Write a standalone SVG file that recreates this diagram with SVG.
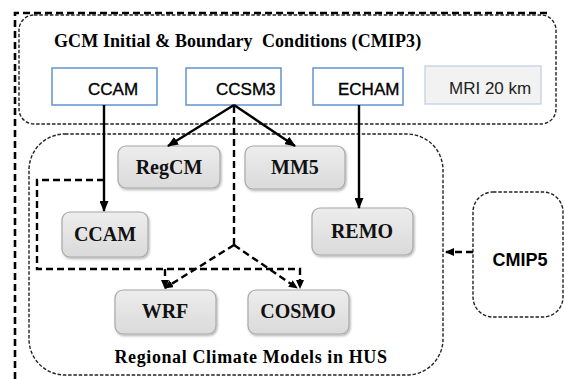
<svg xmlns="http://www.w3.org/2000/svg" width="565" height="379" viewBox="0 0 565 379">
  <style>
    .frame { fill: none; stroke: #000; stroke-width: 2.6; stroke-dasharray: 7 4; }
    .group { fill: none; stroke: #222; stroke-width: 1.4; stroke-dasharray: 3.5 1.8; }
    .gcm { fill: #fff; stroke: #6b9bd2; stroke-width: 1.6; }
    .gcm-lite { fill: #f2f2f2; stroke: #c5d3e8; stroke-width: 1.4; }
    .gcm-text { font-family: "Liberation Sans", Arial, sans-serif; font-size: 17px; fill: #000; stroke: #000; stroke-width: 0.35; }
    .rcm { fill: url(#rcmFill); stroke: #a8a8a8; stroke-width: 1.2; filter: url(#shadow); }
    .rcm-text { font-family: "Liberation Serif", "Times New Roman", serif; font-weight: bold; font-size: 20px; fill: #111; text-anchor: middle; }
    .title { font-family: "Liberation Serif", "Times New Roman", serif; font-weight: bold; font-size: 18px; fill: #000; white-space: pre; }
    .solid { fill: none; stroke: #000; stroke-width: 2.4; }
    .dash { fill: none; stroke: #000; stroke-width: 2.4; stroke-dasharray: 7 4; }
  </style>
  <defs>
    <linearGradient id="rcmFill" x1="0" y1="0" x2="0" y2="1">
      <stop offset="0" stop-color="#ededed"/>
      <stop offset="1" stop-color="#dadada"/>
    </linearGradient>
    <filter id="shadow" x="-10%" y="-10%" width="130%" height="140%">
      <feDropShadow dx="1" dy="1.5" stdDeviation="1" flood-color="#000" flood-opacity="0.3"/>
    </filter>
    <marker id="head" markerUnits="userSpaceOnUse" markerWidth="11" markerHeight="9" refX="10" refY="4.5" orient="auto">
      <path d="M0,0 L11,4.5 L0,9 z" fill="#000"/>
    </marker>
    <marker id="headSmall" markerUnits="userSpaceOnUse" markerWidth="9" markerHeight="8" refX="8" refY="4" orient="auto">
      <path d="M0,0 L9,4 L0,8 z" fill="#000"/>
    </marker>
  </defs>

  <!-- outer frame -->
  <path class="frame" d="M15,379 V13 H550"/>

  <!-- GCM panel -->
  <g id="gcm-panel">
    <rect class="group" x="19" y="15" width="537" height="109" rx="15"/>
    <text class="title" x="54" y="47" xml:space="preserve" letter-spacing="0.1">GCM Initial &amp; Boundary  Conditions (CMIP3)</text>
  </g>
  <g id="gcm-ccam">
    <rect class="gcm" x="52" y="68" width="105" height="37"/>
    <text class="gcm-text" x="88" y="95">CCAM</text>
  </g>
  <g id="gcm-ccsm3">
    <rect class="gcm" x="186" y="68" width="95" height="37"/>
    <text class="gcm-text" x="216" y="95">CCSM3</text>
  </g>
  <g id="gcm-echam">
    <rect class="gcm" x="313" y="68" width="90" height="37"/>
    <text class="gcm-text" x="338" y="95">ECHAM</text>
  </g>
  <g id="gcm-mri">
    <rect class="gcm-lite" x="425" y="66" width="116" height="38"/>
    <text x="449" y="94" font-family="'Liberation Sans', Arial, sans-serif" font-size="17" fill="#222">MRI 20 km</text>
  </g>

  <!-- RCM panel -->
  <g id="rcm-panel">
    <rect class="group" x="29" y="134" width="414" height="241" rx="36"/>
    <text class="title" x="251" y="363" text-anchor="middle" letter-spacing="0.6">Regional Climate Models in HUS</text>
  </g>
  <g id="rcm-regcm">
    <rect class="rcm" x="118" y="146" width="102" height="42" rx="8"/>
    <text class="rcm-text" x="169" y="174">RegCM</text>
  </g>
  <g id="rcm-mm5">
    <rect class="rcm" x="245" y="146" width="100" height="43" rx="8"/>
    <text class="rcm-text" x="295" y="174">MM5</text>
  </g>
  <g id="rcm-ccam">
    <rect class="rcm" x="62" y="212" width="86" height="45" rx="8"/>
    <text class="rcm-text" x="105" y="241">CCAM</text>
  </g>
  <g id="rcm-remo">
    <rect class="rcm" x="312" y="208" width="101" height="47" rx="8"/>
    <text class="rcm-text" x="362" y="238">REMO</text>
  </g>
  <g id="rcm-wrf">
    <rect class="rcm" x="115" y="290" width="101" height="44" rx="8"/>
    <text class="rcm-text" x="165" y="318">WRF</text>
  </g>
  <g id="rcm-cosmo">
    <rect class="rcm" x="248" y="290" width="101" height="44" rx="8"/>
    <text class="rcm-text" x="298" y="318">COSMO</text>
  </g>

  <!-- CMIP5 -->
  <g id="cmip5">
    <rect class="group" x="473" y="192" width="90" height="125" rx="20" stroke="#444"/>
    <text x="520" y="266" text-anchor="middle" font-family="'Liberation Sans', Arial, sans-serif" font-weight="bold" font-size="18" fill="#000">CMIP5</text>
  </g>

  <!-- connectors -->
  <g id="connectors">
    <line class="solid" x1="104" y1="105" x2="104" y2="211" marker-end="url(#head)"/>
    <line class="solid" x1="234" y1="105" x2="168" y2="146" marker-end="url(#head)"/>
    <line class="solid" x1="234" y1="105" x2="295" y2="146" marker-end="url(#head)"/>
    <line class="solid" x1="359" y1="105" x2="359" y2="208" marker-end="url(#head)"/>
    <path class="dash" d="M234,106 V245"/>
    <path class="dash" d="M234,245 L165,288" marker-end="url(#headSmall)"/>
    <path class="dash" d="M234,245 L297,288" marker-end="url(#headSmall)"/>
    <path class="dash" d="M104,180 H37 V269 H300 V288" marker-end="url(#headSmall)"/>
    <path class="dash" d="M165,269 V288" marker-end="url(#headSmall)"/>
    <path class="dash" d="M473,252 H446" marker-end="url(#headSmall)"/>
  </g>
</svg>
